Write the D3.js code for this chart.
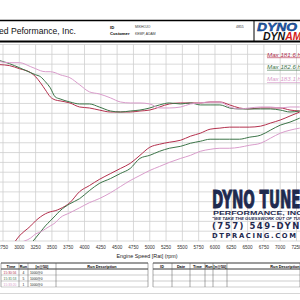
<!DOCTYPE html>
<html lang="en">
<head>
  <meta charset="UTF-8">
  <title>Dyno Run Comparison</title>
  <script src="https://d3js.org/d3.v7.min.js"></script>
  <style>
    body { margin: 0; background: #fff; font-family: "Liberation Sans", Arial, sans-serif; }
    svg { display: block; }
  </style>
</head>
<body>
  <svg id="chart" width="300" height="300"></svg>

  <script>
    // Data
    const rpm = [2700, 2850, 3000, 3175, 3250, 3325, 3400, 3475, 3550, 3625, 3775, 3925, 4075, 4225,
      4400, 4550, 4700, 4850, 5000, 5150, 5300, 5475, 5625, 5775, 5925, 6075, 6225, 6375, 6525,
      6700, 6850, 7000, 7150, 7300];

    // upper traces (torque)
    const torqueRun4 = [179.5, 178.5, 175.4, 171.3, 167.2, 161.0, 153.8, 146.7, 143.6, 142.6, 140.5, 136.4, 135.4, 133.3,
      131.3, 131.3, 131.3, 132.3, 133.3, 136.4, 139.5, 140.5, 140.5, 140.5, 141.5, 141.5, 138.5, 135.4, 134.4,
      135.4, 135.4, 135.4, 133.3, 132.3];
    const torqueRun5 = [183.6, 180.5, 176.4, 171.3, 169.2, 167.2, 162.1, 155.9, 146.7, 144.6, 141.5, 139.5, 139.5, 136.4,
      132.3, 131.3, 132.3, 133.3, 135.4, 138.5, 140.5, 139.5, 140.5, 138.5, 138.5, 138.5, 135.4, 134.4, 134.4,
      134.4, 134.4, 133.3, 131.3, 132.3];
    const torqueRun1 = [182.6, 181.5, 181.5, 177.4, 175.4, 173.3, 172.3, 172.3, 171.3, 169.2, 166.2, 159.0, 151.8, 149.7,
      145.6, 141.5, 140.5, 140.5, 139.5, 135.4, 135.4, 136.4, 139.5, 140.5, 141.5, 141.5, 136.4, 134.4, 135.4,
      136.4, 136.4, 135.4, 136.4, 136.4];

    // lower traces (power)
    const powerRun4 = [-18.5, -8.2, 5.1, 15.4, 20.5, 24.6, 27.7, 29.7, 30.8, 32.8, 39.0, 50.3, 56.4, 62.6,
      68.7, 73.8, 79.0, 87.2, 95.4, 98.5, 100.5, 102.6, 106.7, 109.7, 113.8, 114.9, 115.9, 115.9, 115.9,
      116.9, 120.0, 123.1, 127.2, 131.3];
    const powerRun5 = [-40.0, -27.7, -15.4, -3.1, 3.1, 9.2, 15.4, 20.5, 25.6, 30.8, 37.9, 43.1, 51.3, 58.5,
      63.6, 68.7, 73.8, 84.1, 87.2, 91.3, 94.4, 96.4, 99.5, 101.5, 103.6, 103.6, 103.6, 103.6, 105.6,
      107.7, 112.8, 117.9, 121.0, 125.1];
    const powerRun1 = [-12.3, -7.2, -2.1, 3.1, 7.2, 9.2, 12.3, 15.4, 18.5, 23.6, 28.7, 33.8, 39.0, 43.1,
      49.2, 55.4, 61.5, 66.7, 71.8, 75.9, 80.0, 84.1, 87.2, 91.3, 93.3, 94.4, 94.4, 95.4, 97.4,
      99.5, 104.6, 109.7, 112.8, 114.9];

    const runColors = ["#b3304d", "#3c7448", "#d99ccb"];
    const maxLabels = ["Max 181.6 hp", "Max 182.6 hp", "Max 183.1 hp"];
    const runTimes = ["15:30:56", "15:31:53", "15:33:20"];
    const runNumbers = ["4", "5", "1"];
    const runNotes = ["1000@0", "1000@0", "1000@0"];
    const rpmTicks = d3.range(2750, 7251, 250);

    const svg = d3.select('#chart');
    const x = d3.scaleLinear().domain([2750, 7250]).range([3, 296.5]);
    const y = d3.scaleLinear().domain([0, 200]).range([241, 44.5]);

    // grid
    const grid = svg.append('g').attr('stroke', '#cfcfcf').attr('stroke-width', 0.8);
    grid.selectAll('line.h')
      .data(d3.range(0, 201, 10))
      .enter().append('line')
      .attr('x1', 0).attr('x2', 300)
      .attr('y1', d => y(d)).attr('y2', d => y(d));
    grid.selectAll('line.v')
      .data(rpmTicks)
      .enter().append('line')
      .attr('x1', d => x(d)).attr('x2', d => x(d))
      .attr('y1', y(200)).attr('y2', y(0));

    // watermark logo
    const wm = svg.append('g').attr('fill', '#1f2a4f').attr('font-weight', 'bold');
    wm.append('text').attr('x', 212).attr('y', 208)
      .attr('font-family', '"DejaVu Sans Condensed", sans-serif').attr('font-size', 25)
      .attr('stroke', '#1f2a4f').attr('stroke-width', 0.9)
      .attr('textLength', 99).attr('lengthAdjust', 'spacingAndGlyphs')
      .text('DYNO TUNER');
    wm.append('text').attr('x', 213).attr('y', 214.5)
      .attr('font-size', 5.5).attr('textLength', 92).attr('lengthAdjust', 'spacingAndGlyphs')
      .text('PERFORMANCE, INC.');
    wm.append('text').attr('x', 212).attr('y', 219.5)
      .attr('font-size', 3.4).attr('font-style', 'italic')
      .attr('textLength', 100).attr('lengthAdjust', 'spacingAndGlyphs')
      .text('"WE TAKE THE GUESSWORK OUT OF TUNING"');
    wm.append('text').attr('x', 212).attr('y', 229)
      .attr('font-family', '"DejaVu Sans", sans-serif').attr('font-size', 8.5)
      .attr('textLength', 96).attr('lengthAdjust', 'spacing')
      .text('(757) 549-DYNO');
    wm.append('text').attr('x', 212).attr('y', 237.5)
      .attr('font-family', '"DejaVu Sans", sans-serif').attr('font-size', 6.8)
      .attr('textLength', 84).attr('lengthAdjust', 'spacing')
      .text('DTPRACING.COM');

    // curves
    svg.append('clipPath').attr('id', 'plotClip')
      .append('rect').attr('x', 0).attr('y', y(200)).attr('width', 300).attr('height', y(0) - y(200));

    const line = d3.line()
      .x((d, i) => x(rpm[i]))
      .y(d => y(d))
      .curve(d3.curveMonotoneX);

    const traces = [
      {vals: torqueRun4, c: 0}, {vals: torqueRun5, c: 1}, {vals: torqueRun1, c: 2},
      {vals: powerRun4, c: 0}, {vals: powerRun5, c: 1}, {vals: powerRun1, c: 2}
    ];
    svg.append('g').attr('clip-path', 'url(#plotClip)')
      .selectAll('path')
      .data(traces)
      .enter().append('path')
      .attr('d', d => line(d.vals))
      .attr('fill', 'none')
      .attr('stroke', d => runColors[d.c])
      .attr('stroke-width', 1);

    // max labels
    svg.selectAll('text.maxlab')
      .data(maxLabels)
      .enter().append('text')
      .attr('class', 'maxlab')
      .attr('x', 267)
      .attr('y', (d, i) => 56.5 + i * 12.3)
      .attr('font-size', 6.2)
      .attr('font-style', 'italic')
      .attr('text-decoration', 'underline')
      .attr('fill', (d, i) => runColors[i])
      .text(d => d);

    // x axis labels
    svg.selectAll('text.tick')
      .data(rpmTicks)
      .enter().append('text')
      .attr('x', d => x(d))
      .attr('y', 249)
      .attr('text-anchor', 'middle')
      .attr('font-size', 4.6)
      .attr('fill', '#333')
      .text(d => d);
    svg.append('text')
      .attr('x', 147).attr('y', 257.5)
      .attr('text-anchor', 'middle')
      .attr('font-size', 5.4)
      .attr('fill', '#222')
      .text('Engine Speed [Rat] (rpm)');

    // header
    svg.append('line').attr('x1', 0).attr('x2', 300).attr('y1', 20.5).attr('y2', 20.5)
      .attr('stroke', '#000').attr('stroke-width', 1.5);
    svg.append('line').attr('x1', 0).attr('x2', 300).attr('y1', 41.5).attr('y2', 41.5)
      .attr('stroke', '#000').attr('stroke-width', 1.8);
    svg.append('line').attr('x1', 254).attr('x2', 254).attr('y1', 20).attr('y2', 42)
      .attr('stroke', '#000').attr('stroke-width', 1);
    svg.append('text').attr('x', -1).attr('y', 34).attr('font-size', 8.6).attr('fill', '#111')
      .text('ed Peformance,  Inc.');
    svg.append('text').attr('x', 110).attr('y', 28.5).attr('font-size', 4.2).attr('font-weight', 'bold').text('ID');
    svg.append('text').attr('x', 110).attr('y', 35).attr('font-size', 4.2).attr('font-weight', 'bold').text('Customer');
    svg.append('text').attr('x', 135).attr('y', 28.3).attr('font-size', 3.4).attr('fill', '#333').text('MIKHOJO');
    svg.append('text').attr('x', 135).attr('y', 34.8).attr('font-size', 3.4).attr('fill', '#333').text('KEMP, ADAM');
    svg.append('text').attr('x', 236).attr('y', 28.3).attr('font-size', 3.4).attr('fill', '#333').text('4855');

    // DynoDynamics badge
    svg.append('text').attr('x', 257).attr('y', 30.5)
      .attr('font-size', 10.5).attr('font-weight', 'bold').attr('font-style', 'italic')
      .attr('fill', '#2060b8').attr('stroke', '#0b2a60').attr('stroke-width', 0.4)
      .attr('textLength', 40).attr('lengthAdjust', 'spacingAndGlyphs')
      .text('DYNO');
    const dyn = svg.append('text').attr('x', 263).attr('y', 39.5)
      .attr('font-size', 10.5).attr('font-weight', 'bold').attr('font-style', 'italic');
    dyn.append('tspan').attr('fill', '#111').text('DYN');
    dyn.append('tspan').attr('fill', '#d42020').text('AMICS');

    // run tables
    const tables = [
      {x0: 1, x1: 148, cols: [1, 19, 28, 56, 148], heads: [['Time', 11], ['Run', 23.5], ['[n@50]', 42], ['Run Description', 102]]},
      {x0: 153, x1: 300, cols: [153, 172, 190, 205, 213, 227, 300], heads: [['ID', 162], ['Date', 181], ['Time', 197.5], ['Run', 209], ['[n@50]', 220], ['Run Description', 285]]}
    ];
    const rowY = [263, 269, 275, 281, 287];
    tables.forEach(t => {
      const g = svg.append('g');
      g.selectAll('line.r').data(rowY).enter().append('line')
        .attr('x1', t.x0).attr('x2', t.x1).attr('y1', d => d).attr('y2', d => d)
        .attr('stroke', (d, i) => i < 2 ? '#222' : '#999').attr('stroke-width', (d, i) => i < 2 ? 0.9 : 0.5);
      g.selectAll('line.c').data(t.cols).enter().append('line')
        .attr('x1', d => d).attr('x2', d => d).attr('y1', rowY[0]).attr('y2', rowY[4])
        .attr('stroke', '#555').attr('stroke-width', 0.5);
      g.selectAll('text').data(t.heads).enter().append('text')
        .attr('x', d => d[1]).attr('y', 267.5)
        .attr('text-anchor', 'middle').attr('font-size', 3.8).attr('font-weight', 'bold')
        .text(d => d[0]);
    });
    const rows = svg.append('g').attr('font-size', 3.3);
    runTimes.forEach((t, i) => {
      const yy = 273.5 + i * 6;
      rows.append('text').attr('x', 10).attr('y', yy).attr('text-anchor', 'middle').attr('fill', runColors[i]).text(t);
      rows.append('text').attr('x', 23.5).attr('y', yy).attr('text-anchor', 'middle').attr('fill', '#222').text(runNumbers[i]);
      rows.append('text').attr('x', 30).attr('y', yy).attr('fill', '#222').text(runNotes[i]);
    });
    svg.append('line').attr('x1', 0).attr('x2', 300).attr('y1', 293.5).attr('y2', 293.5)
      .attr('stroke', '#bbb').attr('stroke-width', 0.6);
  </script>
</body>
</html>
